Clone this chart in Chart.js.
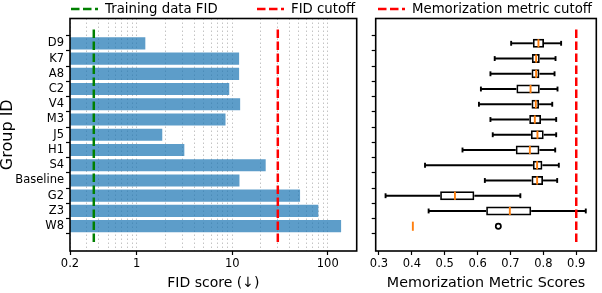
<!DOCTYPE html>
<html><head><meta charset="utf-8">
<script src="https://cdn.jsdelivr.net/npm/chart.js@4.4.1/dist/chart.umd.min.js"></script>
<style>
html,body{margin:0;padding:0;background:#fff;}
#wrap{position:relative;width:602px;height:293px;overflow:hidden;font-family:"DejaVu Sans",sans-serif;background:#fff;}
#c1{position:absolute;left:0;top:0;width:360px;height:293px;}
#c2{position:absolute;left:360px;top:0;width:242px;height:293px;}
.leg{position:absolute;top:1px;height:15px;line-height:15px;font-size:13.3px;white-space:nowrap;color:#000;}
.leg svg{position:absolute;left:0;top:4px;}
.leg span{position:absolute;top:0;}
</style></head><body>
<div id="wrap">
<canvas id="c1" width="360" height="293"></canvas>
<canvas id="c2" width="242" height="293"></canvas>
<div id="legend"></div>
</div>
<script>
// ---------- data ----------
const groups = ['D9','K7','A8','C2','V4','M3','J5','H1','S4','Baseline','G2','Z3','W8'];
const fidScores = [1.23, 11.8, 11.8, 9.3, 12.1, 8.5, 1.85, 3.15, 22.4, 11.9, 51.3, 79.7, 138];
const trainingFid = 0.355;
const fidCutoff = 30;
const memCutoff = 0.9;
const fidMajorTicks = [0.2, 1, 10, 100];
const fidMinorTicks = [0.3,0.4,0.5,0.6,0.7,0.8,0.9,2,3,4,5,6,7,8,9,20,30,40,50,60,70,80,90];
const memTicks = [0.3,0.4,0.5,0.6,0.7,0.8,0.9];
const memLow    = [0.702,0.652,0.639,0.610,0.604,0.639,0.646,0.554,0.440,0.622,0.320,0.451,0.403];
const memQ1     = [0.768,0.765,0.764,0.718,0.764,0.757,0.762,0.716,0.768,0.764,0.486,0.626,0.403];
const memMedian = [0.785,0.778,0.778,0.761,0.777,0.774,0.782,0.759,0.781,0.781,0.531,0.698,0.403];
const memQ3     = [0.802,0.789,0.788,0.789,0.787,0.793,0.801,0.788,0.797,0.799,0.590,0.763,0.403];
const memHigh   = [0.854,0.837,0.834,0.843,0.827,0.839,0.839,0.836,0.847,0.842,0.730,0.929,0.403];
const memFliers = [[],[],[],[],[],[],[],[],[],[],[],[],[0.663]];

// ---------- layout / style ----------
const Y_MIN = -1.04, Y_MAX = 13.04;
const FONT = "'DejaVu Sans'";
const DASH = [8.5, 3.5];

const framePlugin = {
  id: 'frame',
  afterDraw(chart) {
    const {ctx, chartArea: a} = chart;
    ctx.save();
    ctx.strokeStyle = '#000';
    ctx.lineWidth = 1.6;
    ctx.strokeRect(a.left, a.top, a.right - a.left, a.bottom - a.top);
    ctx.restore();
  }
};

function yScale(showLabels, width) {
  return {
    type: 'linear', reverse: true, min: Y_MIN, max: Y_MAX,
    afterBuildTicks: s => { s.ticks = groups.map((g, i) => ({value: i})); },
    afterFit: s => { s.width = width; },
    ticks: {
      autoSkip: false, padding: 2, color: '#000',
      font: {family: FONT, size: 11.5},
      callback: v => showLabels ? groups[v] : ''
    },
    grid: {drawOnChartArea: false, tickLength: 4, tickColor: '#000', tickWidth: 1.2},
    border: {display: false},
    title: showLabels ? {display: true, text: 'Group ID', color: '#000',
      font: {family: FONT, size: 16, lineHeight: 1.0}, padding: {top: -0.5, bottom: 0}} : {display: false}
  };
}

// ---------- left chart: FID bars ----------
const vline = (v) => [{x: v, y: Y_MAX}, {x: v, y: Y_MIN}];

const chart1 = new Chart(document.getElementById('c1'), {
  type: 'bar',
  data: {
    datasets: [
      {
        type: 'line', label: 'Training data FID', data: vline(trainingFid),
        borderColor: '#008000', borderWidth: 2.5, borderDash: DASH, pointRadius: 0, order: 0
      },
      {
        type: 'line', label: 'FID cutoff', data: vline(fidCutoff),
        borderColor: '#ff0000', borderWidth: 2.5, borderDash: DASH, pointRadius: 0, order: 0
      },
      {
        label: 'FID', data: groups.map((g, i) => ({x: fidScores[i], y: i})),
        backgroundColor: 'rgba(31,119,180,0.72)', borderWidth: 0,
        barPercentage: 0.8, categoryPercentage: 1.0, order: 1
      }
    ]
  },
  options: {
    indexAxis: 'y', responsive: false, animation: false, devicePixelRatio: 1,
    layout: {padding: {left: 0, right: 3.3, top: 18.5, bottom: 0}},
    plugins: {legend: {display: false}, tooltip: {enabled: false}},
    scales: {
      x: {
        type: 'logarithmic', min: 0.2, max: 201,
        afterBuildTicks: s => {
          s.ticks = fidMajorTicks.concat(fidMinorTicks).sort((a, b) => a - b)
            .map(v => ({value: v, major: fidMajorTicks.includes(v)}));
        },
        afterFit: s => { s.height = 42; },
        ticks: {
          autoSkip: false, maxRotation: 0, padding: 2, color: '#000',
          font: {family: FONT, size: 11.5},
          callback: v => fidMajorTicks.includes(v) ? String(v) : ''
        },
        grid: {
          color: '#bdbdbd', lineWidth: 0.9, tickLength: 4, tickWidth: 1.2,
          tickBorderDash: [],
          tickColor: c => (c.tick && c.tick.major) ? '#000' : 'rgba(0,0,0,0)'
        },
        border: {display: false, dash: [1.5, 2.5]},
        title: {display: true, text: 'FID score (↓)', color: '#000',
          font: {family: FONT, size: 14}, padding: {top: 0, bottom: 1.3}}
      },
      y: yScale(true, 70)
    }
  },
  plugins: [framePlugin]
});

// ---------- right chart: memorization box plots ----------
const boxPlugin = {
  id: 'boxes',
  beforeDatasetsDraw(chart) {
    const {ctx, scales: {x, y}} = chart;
    ctx.save();
    ctx.strokeStyle = '#000';
    ctx.lineWidth = 1.9;
    ctx.lineCap = 'butt';
    groups.forEach((g, i) => {
      const py = y.getPixelForValue(i);
      const cap = Math.abs(y.getPixelForValue(i + 0.16) - py);
      const seg = (x1, y1, x2, y2) => { ctx.beginPath(); ctx.moveTo(x1, y1); ctx.lineTo(x2, y2); ctx.stroke(); };
      seg(x.getPixelForValue(memLow[i]), py, x.getPixelForValue(memQ1[i]), py);
      seg(x.getPixelForValue(memQ3[i]), py, x.getPixelForValue(memHigh[i]), py);
      if (memHigh[i] > memLow[i]) {
        seg(x.getPixelForValue(memLow[i]), py - cap, x.getPixelForValue(memLow[i]), py + cap);
        seg(x.getPixelForValue(memHigh[i]), py - cap, x.getPixelForValue(memHigh[i]), py + cap);
      }
    });
    ctx.restore();
  },
  afterDatasetsDraw(chart) {
    const {ctx, scales: {x, y}} = chart;
    ctx.save();
    ctx.strokeStyle = '#ff7f0e';
    ctx.lineWidth = 1.9;
    groups.forEach((g, i) => {
      const py = y.getPixelForValue(i);
      const h = Math.abs(y.getPixelForValue(i + (memQ3[i] > memQ1[i] ? 0.27 : 0.3)) - py);
      const px = x.getPixelForValue(memMedian[i]);
      ctx.beginPath(); ctx.moveTo(px, py - h); ctx.lineTo(px, py + h); ctx.stroke();
    });
    ctx.restore();
  }
};

const chart2 = new Chart(document.getElementById('c2'), {
  type: 'bar',
  data: {
    datasets: [
      {
        type: 'line', label: 'Memorization metric cutoff', data: vline(memCutoff),
        borderColor: '#ff0000', borderWidth: 2.5, borderDash: DASH, pointRadius: 0, order: 0
      },
      {
        type: 'line', label: 'fliers', showLine: false,
        data: memFliers.flatMap((arr, i) => arr.map(v => ({x: v, y: i}))),
        pointRadius: 2.6, pointBorderWidth: 1.7, pointBorderColor: '#000',
        pointBackgroundColor: 'rgba(0,0,0,0)', order: 0
      },
      {
        label: 'IQR', data: groups.map((g, i) => ({x: [memQ1[i], memQ3[i]], y: i})),
        backgroundColor: 'rgba(0,0,0,0)', borderColor: '#000', borderWidth: 1.7,
        borderSkipped: false, barPercentage: 0.58, categoryPercentage: 1.0, order: 1
      }
    ]
  },
  options: {
    indexAxis: 'y', responsive: false, animation: false, devicePixelRatio: 1,
    layout: {padding: {left: 0, right: 1.3, top: 18.5, bottom: 0}},
    plugins: {legend: {display: false}, tooltip: {enabled: false}},
    scales: {
      x: {
        type: 'linear', min: 0.29, max: 0.961,
        afterBuildTicks: s => { s.ticks = memTicks.map(v => ({value: v})); },
        afterFit: s => { s.height = 42; },
        ticks: {
          autoSkip: false, maxRotation: 0, padding: 2, color: '#000',
          font: {family: FONT, size: 11.5},
          callback: v => v.toFixed(1)
        },
        grid: {drawOnChartArea: false, tickLength: 4, tickWidth: 1.2, tickColor: '#000'},
        border: {display: false},
        title: {display: true, text: 'Memorization Metric Scores', color: '#000',
          font: {family: FONT, size: 14.3}, padding: {top: 0, bottom: 1.3}}
      },
      y: yScale(false, 15.7)
    }
  },
  plugins: [framePlugin, boxPlugin]
});

// ---------- legends (HTML, built from the reference-line datasets) ----------
const legendEl = document.getElementById('legend');
const legendItems = [
  {ds: chart1.data.datasets[0], left: 71},
  {ds: chart1.data.datasets[1], left: 257},
  {ds: chart2.data.datasets[0], left: 378}
];
legendItems.forEach(({ds, left}) => {
  const d = document.createElement('div');
  d.className = 'leg';
  d.style.left = left + 'px';
  d.innerHTML = '<svg width="27" height="8"><line x1="0" y1="4" x2="27" y2="4" stroke="' + ds.borderColor +
    '" stroke-width="' + ds.borderWidth + '" stroke-dasharray="' + ds.borderDash.join(',') + '"/></svg>';
  const s = document.createElement('span');
  s.style.left = '34px';
  s.textContent = ds.label;
  d.appendChild(s);
  legendEl.appendChild(d);
});
</script>
</body></html>
